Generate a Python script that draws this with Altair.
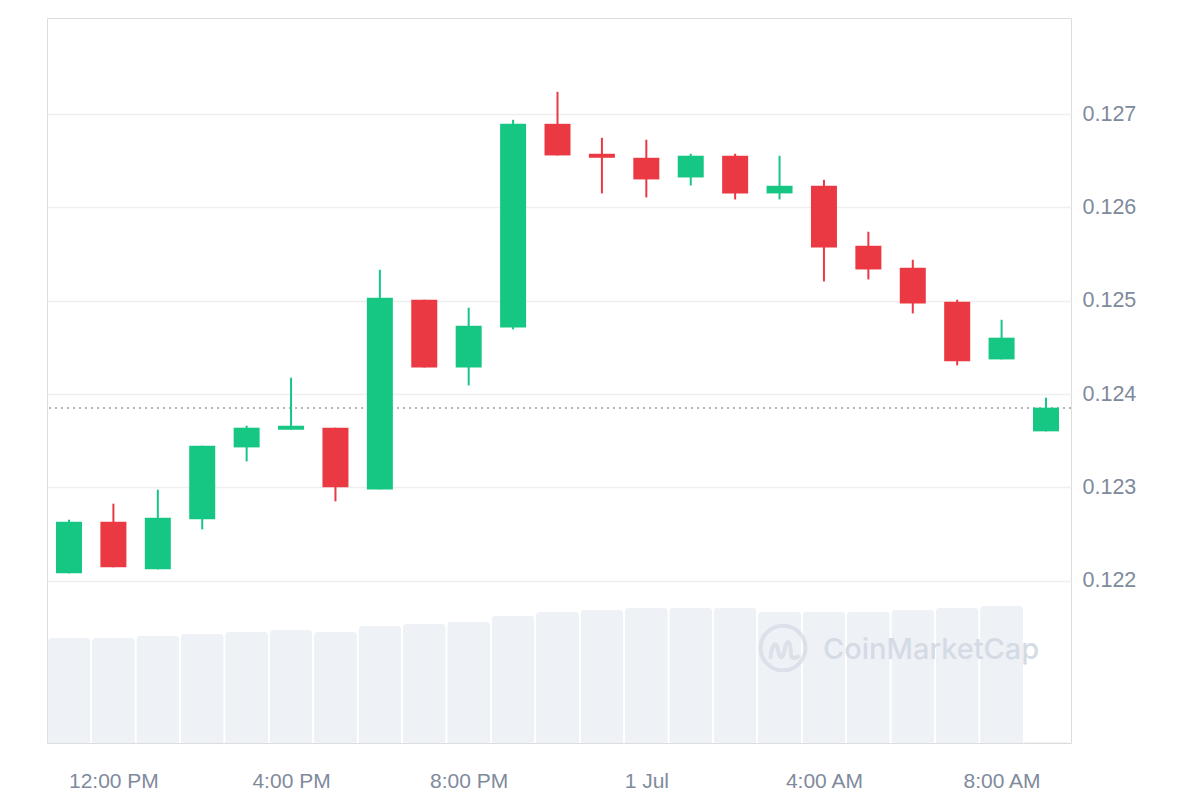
import altair as alt
import pandas as pd

# hourly candles, 30 Jun 11:00 -> 1 Jul 09:00
times = pd.date_range("2024-06-30 11:00", periods=23, freq="h").strftime("%Y-%m-%dT%H:%M:%S").tolist()
opens = [0.122078, 0.122632, 0.122121, 0.122657, 0.123428, 0.123618, 0.123639, 0.122978,
         0.125011, 0.124285, 0.124714, 0.126896, 0.126575, 0.126532, 0.126321, 0.126554,
         0.126150, 0.126232, 0.125589, 0.125354, 0.124989, 0.124371, 0.123600]
closes = [0.122632, 0.122143, 0.122675, 0.123446, 0.123639, 0.123661, 0.123000, 0.125032,
          0.124285, 0.124732, 0.126896, 0.126557, 0.126532, 0.126300, 0.126554, 0.126150,
          0.126232, 0.125571, 0.125335, 0.124971, 0.124350, 0.124604, 0.123854]
highs = [0.122653, 0.122825, 0.122975, 0.123446, 0.123661, 0.124175, 0.123639, 0.125332,
         0.125011, 0.124925, 0.126939, 0.127239, 0.126746, 0.126725, 0.126575, 0.126575,
         0.126554, 0.126296, 0.125739, 0.125439, 0.125011, 0.124796, 0.123961]
lows = [0.122078, 0.122143, 0.122121, 0.122550, 0.123278, 0.123618, 0.122850, 0.122978,
        0.124285, 0.124092, 0.124693, 0.126557, 0.126150, 0.126107, 0.126235, 0.126085,
        0.126085, 0.125207, 0.125228, 0.124864, 0.124307, 0.124371, 0.123600]
volumes = [42.0, 42.0, 42.9, 43.7, 44.5, 45.3, 44.5, 46.9, 47.7, 48.5, 50.9, 52.5,
           53.3, 54.1, 54.1, 54.1, 52.5, 52.5, 52.5, 53.3, 54.1, 54.9, 0.5]
current_price = [0.12385]
price_ticks = [0.122, 0.123, 0.124, 0.125, 0.126, 0.127]
time_ticks = [(2024, 6, 30, 12), (2024, 6, 30, 16), (2024, 6, 30, 20),
              (2024, 7, 1, 0), (2024, 7, 1, 4), (2024, 7, 1, 8)]

GREEN = "#16C784"
RED = "#EA3943"
LABEL = "#808A9D"
WM = "#D5DBE5"

df = pd.DataFrame({"t": times, "open": opens, "close": closes, "high": highs,
                   "low": lows, "vol": volumes})
df["dir"] = ["up" if c >= o else "down" for o, c in zip(opens, closes)]

x_scale = alt.Scale(domain=[alt.DateTime(year=2024, month=6, date=30, hours=10, minutes=30, seconds=17),
                            alt.DateTime(year=2024, month=7, date=1, hours=9, minutes=33, seconds=46)],
                    nice=False, padding=0)
y_scale = alt.Scale(domain=[0.12026, 0.12803], zero=False, nice=False)

x_axis = alt.Axis(
    values=[alt.DateTime(year=a, month=b, date=c, hours=d) for a, b, c, d in time_ticks],
    labelExpr="hours(datum.value) == 0 ? timeFormat(datum.value, '%-d %b') : timeFormat(datum.value, '%-I:%M %p')",
    title=None, grid=False, ticks=False, domain=False, labelPadding=27,
    labelFontSize=21, labelColor=LABEL, labelFont="Liberation Sans")

X = alt.X("t:T", scale=x_scale, axis=x_axis)
color = alt.Color("dir:N", scale=alt.Scale(domain=["up", "down"], range=[GREEN, RED]), legend=None)

base = alt.Chart(df)

volume = base.mark_bar(size=43, color="#EEF1F5", cornerRadiusTopLeft=4, cornerRadiusTopRight=4).encode(
    x=X,
    y=alt.Y("vol:Q", scale=alt.Scale(domain=[0, 290], nice=False), axis=None),
)

price_axis = alt.Axis(values=price_ticks, orient="right", title=None, format=".3f",
                      grid=True, gridColor="#EFEFEF", gridWidth=1.5, ticks=False, domain=False,
                      labelPadding=11, labelFontSize=21.5, labelColor=LABEL, labelFont="Liberation Sans")

cur = alt.Chart(pd.DataFrame({"p": current_price})).mark_rule(
    color="#9AA0AA", strokeDash=[2, 4], strokeWidth=1.5).encode(
    y=alt.Y("p:Q", scale=y_scale, axis=price_axis))

wicks = base.mark_rule(strokeWidth=2).encode(
    x=X, y=alt.Y("low:Q", scale=y_scale), y2="high:Q", color=color)

bodies = base.mark_bar(size=26).encode(
    x=X, y=alt.Y("open:Q", scale=y_scale), y2="close:Q", color=color)

price = alt.layer(cur, wicks, bodies)

wm_df = pd.DataFrame({"label": ["CoinMarketCap"]})
wm_text = alt.Chart(wm_df).mark_text(
    align="left", baseline="middle", font="Inter", fontSize=29, fontWeight=500,
    color=WM).encode(x=alt.value(776), y=alt.value(632), text="label:N")
wm_circle = alt.Chart(wm_df).mark_point(
    shape="circle", size=2000, filled=False, strokeWidth=4, color=WM).encode(
    x=alt.value(736), y=alt.value(630))
wm_m = alt.Chart(wm_df).mark_point(
    shape="M-0.75,0.45 C-0.7,-0.3 -0.45,-0.55 -0.35,0.05 C-0.25,0.55 -0.1,0.45 0,-0.1 C0.1,-0.6 0.3,-0.5 0.3,0.2 C0.35,0.5 0.5,0.45 0.75,0.3",
    size=1500, filled=False, strokeWidth=4, color=WM).encode(
    x=alt.value(738), y=alt.value(632))

chart = alt.layer(volume, price, wm_circle, wm_m, wm_text).resolve_scale(y="independent").properties(
    width=1024, height=725,
    autosize=alt.AutoSizeParams(type="none"),
    padding={"left": 39, "top": 10, "right": 100, "bottom": 49},
).configure_view(stroke="#EBEBEB", strokeWidth=2).configure(background="white")

chart.save("out.html", embed_options={"renderer": "svg", "actions": False})
